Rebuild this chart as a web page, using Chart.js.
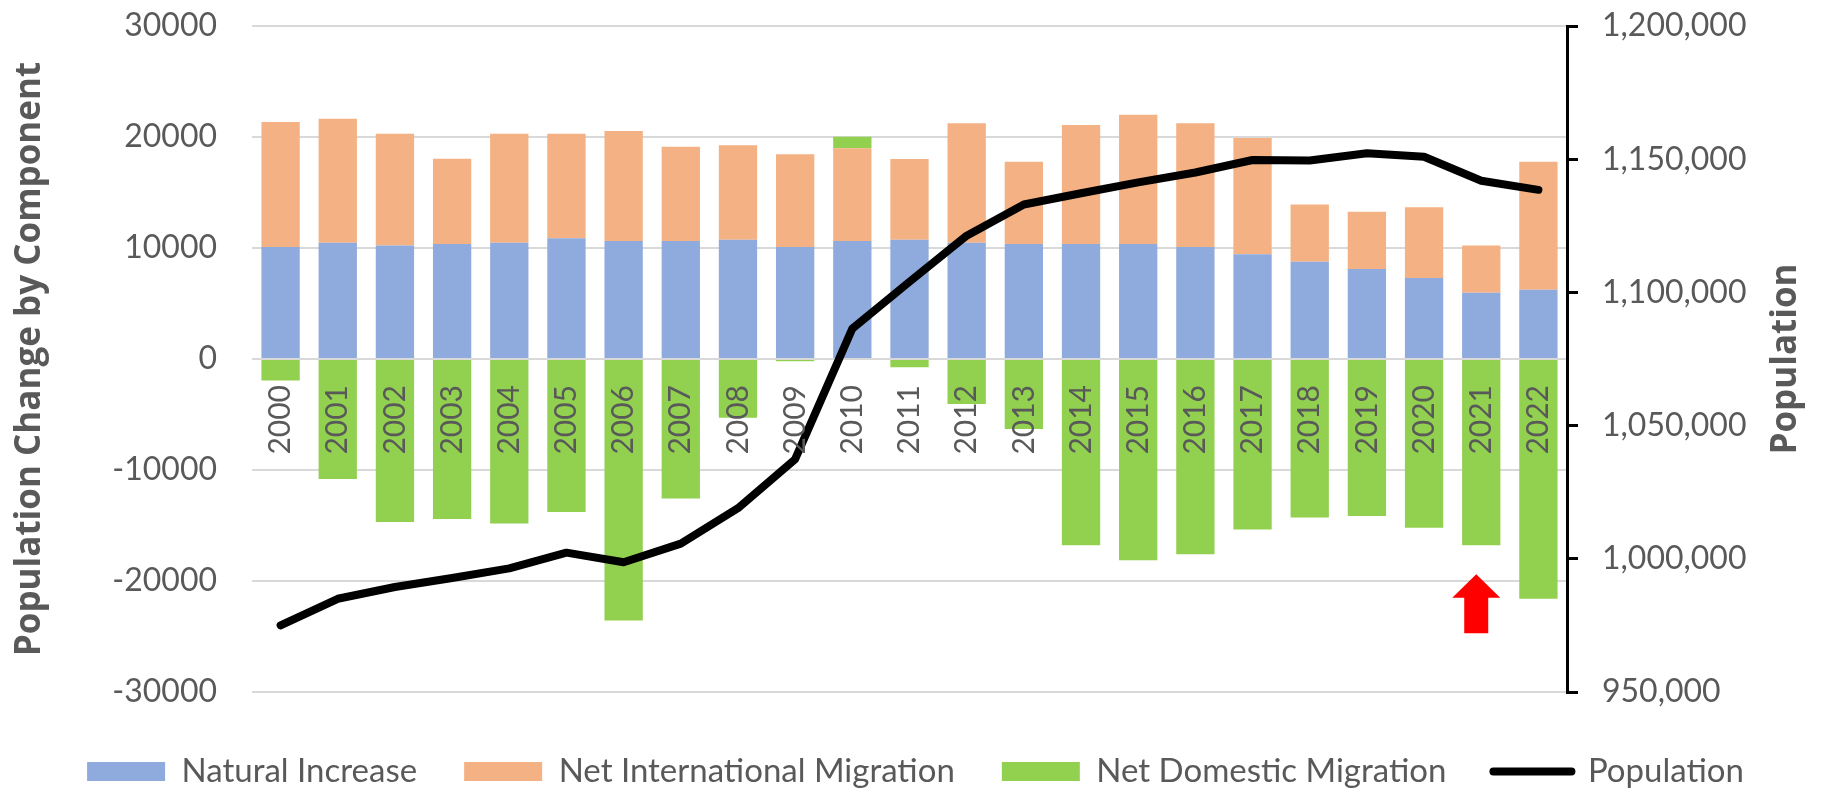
<!DOCTYPE html>
<html>
<head>
<meta charset="utf-8">
<script src="https://cdn.jsdelivr.net/npm/chart.js@4.4.0/dist/chart.umd.min.js"></script>
<style>
  html, body { margin: 0; padding: 0; background: #fff; }
  #wrap { width: 1831px; height: 790px; }
</style>
</head>
<body>
<div id="wrap"><canvas id="popChart"></canvas></div>
<script>
var years = ['2000','2001','2002','2003','2004','2005','2006','2007','2008','2009','2010',
             '2011','2012','2013','2014','2015','2016','2017','2018','2019','2020','2021','2022'];
var naturalIncrease = [10090, 10480, 10230, 10360, 10480, 10870, 10630, 10630, 10750, 10090, 10630,
                       10750, 10480, 10360, 10360, 10360, 10090, 9430, 8770, 8110, 7300, 5970, 6240];
var netInternational = [11260, 11170, 10070, 7690, 9820, 9430, 9910, 8500, 8500, 8350, 8350,
                        7270, 10750, 7410, 10720, 11650, 11140, 10480, 5160, 5160, 6360, 4260, 11530];
var netDomestic = [-1930, -10810, -14690, -14410, -14810, -13780, -23550, -12560, -5290, -200, 1050,
                   -750, -4050, -6310, -16790, -18140, -17600, -15350, -14270, -14150, -15200, -16790, -21590];
var population = [975000, 985000, 989400, 992800, 996400, 1002300, 998700, 1005700, 1019000, 1037400, 1086400,
                  1104000, 1121300, 1133000, 1137200, 1141300, 1145000, 1149700, 1149500, 1152200, 1150900, 1141900, 1138500];

var leftTicks = { min: -30000, max: 30000, step: 10000 };
var rightTicks = { min: 950000, max: 1200000, step: 50000 };
var leftTitle = 'Population Change by Component';
var rightTitle = 'Population';

// red arrow pointing up under 2021
var arrowYear = '2021';
var arrowTip = -19400, arrowHeadBase = -21500, arrowTail = -24700;

var grey = '#595959';

var rightTitlePlugin = {
  id: 'rightTitle',
  afterDraw: function(chart) {
    var ctx = chart.ctx, area = chart.chartArea, s = chart.scales.y1;
    ctx.save();
    ctx.translate(s.right - 45, (area.top + area.bottom) / 2);
    ctx.rotate(-Math.PI / 2);
    ctx.font = 'bold 35px "Open Sans"';
    ctx.fillStyle = grey;
    ctx.textAlign = 'center';
    ctx.textBaseline = 'middle';
    ctx.fillText(rightTitle, 0, 0);
    ctx.restore();
  }
};

var arrowPlugin = {
  id: 'arrowMark',
  afterDatasetsDraw: function(chart) {
    var ctx = chart.ctx, y = chart.scales.y;
    var x = chart.scales.x.getPixelForValue(years.indexOf(arrowYear)) - 5;
    var yt = y.getPixelForValue(arrowTip), yh = y.getPixelForValue(arrowHeadBase), yb = y.getPixelForValue(arrowTail);
    ctx.save();
    ctx.fillStyle = '#ff0000';
    ctx.beginPath();
    ctx.moveTo(x, yt);
    ctx.lineTo(x + 24, yh);
    ctx.lineTo(x + 12, yh);
    ctx.lineTo(x + 12, yb);
    ctx.lineTo(x - 12, yb);
    ctx.lineTo(x - 12, yh);
    ctx.lineTo(x - 24, yh);
    ctx.closePath();
    ctx.fill();
    ctx.restore();
  }
};

// fixed axis widths; tick padding must not push the plot area down
function fixWidth(w) {
  return function(scale) {
    scale.width = w;
    scale.paddingTop = 0;
    scale.paddingBottom = 0;
  };
}

var ctx = document.getElementById('popChart').getContext('2d');

var popChart = new Chart(ctx, {
  data: {
    labels: years,
    datasets: [{
      type: 'line',
      label: 'Population',
      data: population,
      yAxisID: 'y1',
      borderColor: '#000000',
      backgroundColor: '#000000',
      borderWidth: 8,
      pointRadius: 0,
      borderCapStyle: 'round',
      borderJoinStyle: 'round',
      order: 0
    }, {
      type: 'bar',
      label: 'Natural Increase',
      data: naturalIncrease,
      backgroundColor: '#8faadc',
      yAxisID: 'y',
      order: 1
    }, {
      type: 'bar',
      label: 'Net International Migration',
      data: netInternational,
      backgroundColor: '#f4b183',
      yAxisID: 'y',
      order: 1
    }, {
      type: 'bar',
      label: 'Net Domestic Migration',
      data: netDomestic,
      backgroundColor: '#92d050',
      yAxisID: 'y',
      order: 1
    }]
  },
  options: {
    responsive: true,
    maintainAspectRatio: false,
    animation: false,
    categoryPercentage: 1,
    barPercentage: 0.67,
    layout: { padding: { left: 0, right: 0, top: 26, bottom: 0 } },
    scales: {
      x: {
        stacked: true,
        position: { y: 0 },
        grid: { display: false, drawTicks: false },
        border: { display: false },
        ticks: {
          z: 1,
          autoSkip: false,
          minRotation: 90,
          maxRotation: 90,
          padding: 26,
          color: grey,
          font: { family: 'Lato', size: 30 }
        }
      },
      y: {
        stacked: true,
        position: 'left',
        min: leftTicks.min,
        max: leftTicks.max,
        afterFit: fixWidth(252),
        grid: { color: '#d9d9d9', lineWidth: 2, drawTicks: false },
        border: { display: false },
        ticks: {
          stepSize: leftTicks.step,
          padding: 35,
          color: grey,
          font: { family: 'Lato', size: 32 },
          callback: function(v) { return String(v); }
        },
        title: {
          display: true,
          text: leftTitle,
          color: grey,
          font: { family: 'Open Sans', size: 35, weight: 'bold' },
          padding: { top: 9, bottom: 0 }
        }
      },
      y1: {
        position: 'right',
        min: rightTicks.min,
        max: rightTicks.max,
        afterFit: fixWidth(264),
        grid: { drawOnChartArea: false, drawTicks: true, tickLength: 11, color: '#000000', lineWidth: 3 },
        border: { display: true, color: '#000000', width: 3 },
        ticks: {
          stepSize: rightTicks.step,
          padding: 24,
          color: grey,
          font: { family: 'Lato', size: 32 },
          callback: function(v) { return v.toLocaleString('en-US'); }
        }
      }
    },
    plugins: {
      tooltip: { enabled: false },
      legend: {
        position: 'bottom',
        maxHeight: 98,
        title: { display: true, text: '', font: { size: 10, lineHeight: 1 }, padding: { top: 6, bottom: 0 } },
        labels: {
          usePointStyle: true,
          pointStyleWidth: 78,
          boxWidth: 78,
          boxHeight: 19,
          padding: 47,
          color: grey,
          font: { family: 'Lato', size: 33 },
          sort: function(a, b) {
            var rank = function(i) { return i.datasetIndex === 0 ? 9 : i.datasetIndex; };
            return rank(a) - rank(b);
          },
          generateLabels: function(chart) {
            var items = Chart.defaults.plugins.legend.labels.generateLabels(chart);
            items.forEach(function(it) {
              if (it.datasetIndex === 0) {
                it.pointStyle = 'line';
                it.lineWidth = 8;
                it.strokeStyle = '#000000';
                it.lineCap = 'round';
              } else {
                it.pointStyle = 'rect';
                it.lineWidth = 0;
              }
            });
            return items;
          }
        }
      }
    }
  },
  plugins: [rightTitlePlugin, arrowPlugin]
});
</script>
</body>
</html>
